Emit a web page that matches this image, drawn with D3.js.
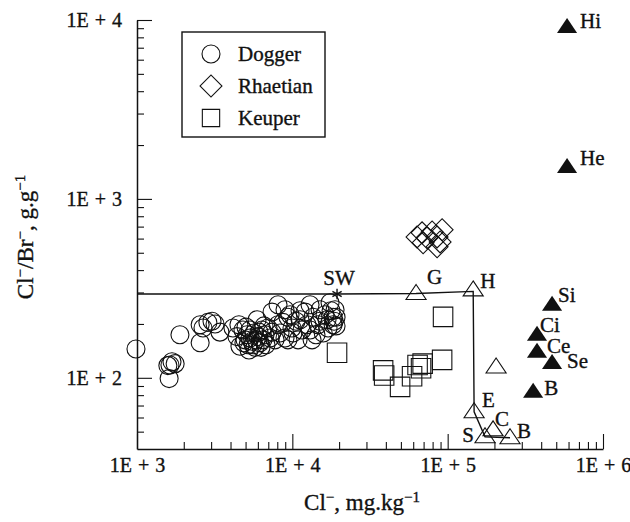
<!DOCTYPE html>
<html>
<head>
<meta charset="utf-8">
<script src="https://cdn.jsdelivr.net/npm/d3@7"></script>
<style>
  body { margin: 0; background: #fff; }
  text { font-family: "Liberation Serif", "Times New Roman", serif; fill: #111; stroke: #111; stroke-width: 0.35px; }
</style>
</head>
<body>
<div id="chart"></div>
<script>
// Dogger waters: [Cl- mg/kg, Cl/Br g/g]
const dogger = [
  [985, 145], [1630, 118], [1680, 123], [1760, 120], [1580, 117], [1610, 99],
  [1890, 174], [2550, 157], [2550, 198], [2660, 190], [2860, 204], [3040, 207],
  [3180, 200], [3420, 180], [4150, 190], [4400, 170], [4600, 150], [4810, 185],
  [4960, 163], [5110, 174], [5190, 153], [5340, 185], [5340, 167], [5500, 160],
  [5670, 178], [5750, 148], [5930, 211], [6020, 170], [6190, 157], [6380, 185],
  [6470, 163], [6670, 174], [6770, 153], [6970, 190], [7180, 167], [7400, 233],
  [7400, 180], [7740, 163], [8090, 256], [8090, 198], [8330, 178], [8710, 204],
  [8970, 167], [9370, 218], [9670, 225], [9950, 190], [10100, 178], [10570, 207],
  [10890, 163], [11210, 211], [11550, 185], [12070, 233], [12430, 198], [13000, 185],
  [13400, 163], [13600, 218], [14200, 174], [14650, 198], [15080, 207], [15800, 178],
  [16240, 225], [16730, 211], [16980, 190], [17490, 263], [17750, 237], [18300, 218],
  [18300, 198], [18570, 207], [18840, 240], [19120, 218], [19120, 195], [5030, 192],
  [5260, 143], [5590, 153], [5840, 163], [6100, 180], [4880, 157], [6290, 148],
  [6570, 195], [8970, 240], [9370, 163], [4530, 198], [13000, 256], [11210, 237],
  [15080, 240]
];

// Rhaetian waters
const rhaetian = [
  [63500, 613], [68400, 646], [73700, 606], [79400, 654], [85500, 613],
  [89400, 575], [92100, 672], [69500, 568], [85500, 540]
];

// Keuper waters
const keuper = [
  [19400, 138], [93400, 219], [38400, 110], [39000, 103], [49400, 89],
  [59000, 102], [64000, 118], [67400, 113], [69000, 120], [92100, 126]
];

// seawater evaporation path (open triangles) and seawater point
const seawater = { name: "SW", cl: 19400, ratio: 294 };
const evapPoints = [
  { name: "G", cl: 62600, ratio: 296 },
  { name: "H", cl: 146000, ratio: 310 },
  { name: "", cl: 205000, ratio: 115 },
  { name: "E", cl: 148000, ratio: 64.6 },
  { name: "S", cl: 174000, ratio: 46.8 },
  { name: "C", cl: 196000, ratio: 51.2 },
  { name: "B", cl: 252000, ratio: 46.2 }
];
const evapLine = [
  [1000, 294], [19400, 294], [62600, 296], [146000, 304],
  [148000, 64.6], [174000, 46.8], [252000, 46.2]
];

// halite dissolution brines (filled triangles)
const brines = [
  { name: "Hi", cl: 587000, ratio: 9150 },
  { name: "He", cl: 587000, ratio: 1510 },
  { name: "Si", cl: 470000, ratio: 256 },
  { name: "Ci", cl: 376000, ratio: 174 },
  { name: "Ce", cl: 376000, ratio: 140 },
  { name: "Se", cl: 470000, ratio: 121 },
  { name: "B", cl: 355000, ratio: 83.5 }
];

// axes
const xTicks = [1e3, 1e4, 1e5, 1e6];
const xTickLabels = ["1E + 3", "1E + 4", "1E + 5", "1E + 6"];
const yTicks = [1e2, 1e3, 1e4];
const yTickLabels = ["1E + 2", "1E + 3", "1E + 4"];
const legendNames = ["Dogger", "Rhaetian", "Keuper"];

const margin = { top: 20, right: 27, bottom: 73, left: 137 },
  width = 630 - margin.left - margin.right,
  height = 522 - margin.top - margin.bottom;

const svg = d3
  .select("#chart")
  .append("svg")
  .attr("width", 630)
  .attr("height", 522)
  .append("g")
  .attr("transform", `translate(${margin.left},${margin.top})`);

const x = d3.scaleLog().domain([1e3, 1e6]).range([0, width]);
const y = d3.scaleLog().domain([40, 1e4]).range([height, 0]);

// minor ticks 2..9 per decade
const minorTicks = (lo, hi) => {
  const out = [];
  for (let p = lo; p < hi; p *= 10) for (let k = 2; k <= 9; k++) out.push(k * p);
  return out;
};

// X axis
svg
  .append("g")
  .attr("transform", `translate(0,${height})`)
  .call(d3.axisBottom(x).tickValues(minorTicks(1e3, 1e6)).tickSize(-7).tickFormat(""))
  .call((g) => g.select(".domain").remove());
svg
  .append("g")
  .attr("transform", `translate(0,${height})`)
  .call(
    d3.axisBottom(x)
      .tickValues(xTicks)
      .tickSizeInner(-15)
      .tickSizeOuter(0)
      .tickPadding(9)
      .tickFormat((d, i) => xTickLabels[i])
  )
  .selectAll("text")
  .style("font-size", "20px")
  .style("word-spacing", "1px")
  .style("font-family", '"Liberation Serif", serif')
  .attr("fill", "#111");

// Y axis
svg
  .append("g")
  .call(d3.axisLeft(y).tickValues(minorTicks(10, 1e4).filter((v) => v > 40)).tickSize(-7).tickFormat(""))
  .call((g) => g.select(".domain").remove());
svg
  .append("g")
  .call(
    d3.axisLeft(y)
      .tickValues(yTicks)
      .tickSizeInner(-15)
      .tickSizeOuter(0)
      .tickPadding(15)
      .tickFormat((d, i) => yTickLabels[i])
  )
  .selectAll("text")
  .style("font-size", "20px")
  .style("word-spacing", "1px")
  .style("font-family", '"Liberation Serif", serif')
  .attr("fill", "#111");

svg.selectAll(".domain").attr("stroke", "#111").attr("stroke-width", 1.5);
svg.selectAll(".tick line").attr("stroke", "#111").attr("stroke-width", 1.1);

// axis titles
const xTitle = svg
  .append("text")
  .attr("x", width / 2 - 8)
  .attr("y", height + 61)
  .attr("text-anchor", "middle")
  .style("font-size", "23px");
xTitle.append("tspan").text("Cl");
xTitle.append("tspan").attr("dy", -8).style("font-size", "15px").text("−");
xTitle.append("tspan").attr("dy", 8).text(", mg.kg");
xTitle.append("tspan").attr("dy", -8).style("font-size", "15px").text("−1");

const yTitle = svg
  .append("text")
  .attr("transform", `translate(${33 - margin.left},${237 - margin.top})rotate(-90)`)
  .attr("text-anchor", "middle")
  .style("font-size", "23px");
yTitle.append("tspan").text("Cl");
yTitle.append("tspan").attr("dy", -8).style("font-size", "15px").text("−");
yTitle.append("tspan").attr("dy", 8).text("/Br");
yTitle.append("tspan").attr("dy", -8).style("font-size", "15px").text("−");
yTitle.append("tspan").attr("dy", 8).text(", g.g");
yTitle.append("tspan").attr("dy", -8).style("font-size", "15px").text("−1");

// shapes
const flatTriangle = {
  draw(ctx, size) {
    const h = Math.sqrt(size);
    ctx.moveTo(0, -h * 0.6);
    ctx.lineTo(h * 0.67, h * 0.4);
    ctx.lineTo(-h * 0.67, h * 0.4);
    ctx.closePath();
  }
};
const tri = d3.symbol().type(flatTriangle).size(225);
const square = d3.symbol().type(d3.symbolSquare).size(380);
const diamond = d3.symbol().type(d3.symbolSquare).size(240);

// evaporation path line
svg
  .append("path")
  .datum(evapLine)
  .attr("fill", "none")
  .attr("stroke", "#111")
  .attr("stroke-width", 1.4)
  .attr("d", d3.line().x((d) => x(d[0])).y((d) => y(d[1])));

// Dogger circles
svg
  .append("g")
  .selectAll("circle")
  .data(dogger)
  .join("circle")
  .attr("cx", (d) => x(d[0]))
  .attr("cy", (d) => y(d[1]))
  .attr("r", 9)
  .attr("fill", "none")
  .attr("stroke", "#111")
  .attr("stroke-width", 1.1);

// Rhaetian diamonds
svg
  .append("g")
  .selectAll("path")
  .data(rhaetian)
  .join("path")
  .attr("d", diamond)
  .attr("transform", (d) => `translate(${x(d[0])},${y(d[1])})rotate(45)`)
  .attr("fill", "none")
  .attr("stroke", "#111")
  .attr("stroke-width", 1.1);

// Keuper squares
svg
  .append("g")
  .selectAll("path")
  .data(keuper)
  .join("path")
  .attr("d", square)
  .attr("transform", (d) => `translate(${x(d[0])},${y(d[1])})`)
  .attr("fill", "none")
  .attr("stroke", "#111")
  .attr("stroke-width", 1.1);

// open triangles
svg
  .append("g")
  .selectAll("path")
  .data(evapPoints)
  .join("path")
  .attr("d", tri)
  .attr("transform", (d) => `translate(${x(d.cl)},${y(d.ratio)})`)
  .attr("fill", "none")
  .attr("stroke", "#111")
  .attr("stroke-width", 1.1);

// filled triangles
svg
  .append("g")
  .selectAll("path")
  .data(brines)
  .join("path")
  .attr("d", tri)
  .attr("transform", (d) => `translate(${x(d.cl)},${y(d.ratio)})`)
  .attr("fill", "#111");

// seawater asterisk
svg
  .append("path")
  .attr("d", d3.symbol().type(d3.symbolAsterisk).size(80)())
  .attr("transform", `translate(${x(seawater.cl)},${y(seawater.ratio)})`)
  .attr("stroke", "#111")
  .attr("stroke-width", 1.4);

// point labels (offsets in px from the marker)
const labelOffset = {
  SW: [2, -9, "middle"], G: [11, -9, "start"], H: [7, -2, "start"],
  E: [8, -5, "start"], S: [-11, 5, "end"], C: [2, -4, "start"], B: [7, 0, "start"],
  Hi: [13, 1, "start"], He: [13, -2, "start"], Si: [6, -3, "start"],
  Ci: [3, -3, "start"], Ce: [10, 1, "start"], Se: [15, 5, "start"], B2: [11, 3, "start"]
};
const labelled = [
  seawater,
  ...evapPoints.filter((d) => d.name),
  ...brines.map((d) => ({ ...d, key: d.name === "B" ? "B2" : d.name }))
];
svg
  .append("g")
  .selectAll("text")
  .data(labelled)
  .join("text")
  .attr("x", (d) => x(d.cl) + labelOffset[d.key || d.name][0])
  .attr("y", (d) => y(d.ratio) + labelOffset[d.key || d.name][1])
  .attr("text-anchor", (d) => labelOffset[d.key || d.name][2])
  .style("font-size", "21px")
  .text((d) => d.name);

// legend
const legend = svg.append("g").attr("transform", `translate(${182 - margin.left},${32 - margin.top})`);
legend
  .append("rect")
  .attr("width", 143)
  .attr("height", 105)
  .attr("fill", "#fff")
  .attr("stroke", "#111")
  .attr("stroke-width", 1.4);
const legendShapes = [
  d3.symbol().type(d3.symbolCircle).size(254),
  d3.symbol().type(d3.symbolSquare).size(240),
  d3.symbol().type(d3.symbolSquare).size(300)
];
legend
  .selectAll("path")
  .data(legendNames)
  .join("path")
  .attr("d", (d, i) => legendShapes[i]())
  .attr("transform", (d, i) => `translate(29,${22 + i * 32})${i === 1 ? "rotate(45)" : ""}`)
  .attr("fill", "none")
  .attr("stroke", "#111")
  .attr("stroke-width", 1.1);
legend
  .selectAll("text")
  .data(legendNames)
  .join("text")
  .attr("x", 56)
  .attr("y", (d, i) => 29 + i * 32)
  .style("font-size", "21px")
  .text((d) => d);
</script>
</body>
</html>
